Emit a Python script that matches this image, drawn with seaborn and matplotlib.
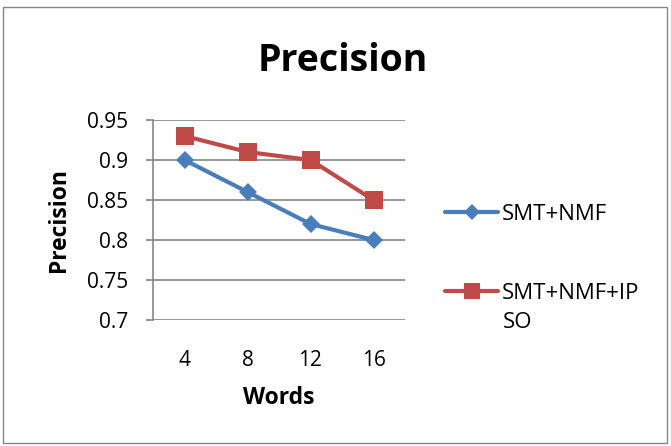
import matplotlib
matplotlib.use("Agg")
import matplotlib.pyplot as plt
import seaborn as sns
import pandas as pd
from matplotlib.patches import Rectangle
from matplotlib.lines import Line2D

words = ["4", "8", "12", "16"]
smt_nmf = [0.90, 0.86, 0.82, 0.80]
smt_nmf_ipso = [0.93, 0.91, 0.90, 0.85]
series_names = ["SMT+NMF", "SMT+NMF+IPSO"]
legend_lines = ["SMT+NMF", "SMT+NMF+IP"]
legend_wrap = "SO"
yticks = [0.7, 0.75, 0.8, 0.85, 0.9, 0.95]
ytick_labels = ["0.7", "0.75", "0.8", "0.85", "0.9", "0.95"]

df = pd.DataFrame({
    "Words": words * 2,
    "Precision": smt_nmf + smt_nmf_ipso,
    "Series": [series_names[0]] * 4 + [series_names[1]] * 4,
})
df["x"] = df["Words"].map({w: i for i, w in enumerate(words)})

sns.set_style("white")
plt.rcParams["font.family"] = ["Open Sans", "DejaVu Sans"]
plt.rcParams["text.color"] = "black"
plt.rcParams["axes.labelcolor"] = "black"
plt.rcParams["xtick.color"] = "black"
plt.rcParams["ytick.color"] = "black"

fig = plt.figure(figsize=(6.71, 4.46), dpi=100)
ax = fig.add_axes([153/671, 1-320/446, (405-153)/671, 200/446])

palette = {series_names[0]: "#4A7EBB", series_names[1]: "#BE4B48"}
markers = {series_names[0]: "D", series_names[1]: "s"}
sns.lineplot(data=df, x="x", y="Precision", hue="Series", style="Series",
             palette=palette, markers=markers, dashes=False, linewidth=3.0,
             markersize=10, markeredgewidth=0, ax=ax, legend=False)
for line in ax.get_lines():
    if line.get_marker() == "s":
        line.set_markersize(13)
    elif line.get_marker() == "D":
        line.set_markersize(9.5)

ax.set_xlim(-0.5, 3.5)
ax.set_ylim(0.7, 0.95)
ax.set_yticks(yticks)
ax.set_yticklabels(ytick_labels, fontsize=15)
ax.set_xticks(range(len(words)))
ax.set_xticklabels(words, fontsize=15)
ax.yaxis.grid(True, color="#868686", linewidth=1.2)
ax.set_axisbelow(True)
for s in ["top", "right", "bottom"]:
    ax.spines[s].set_visible(False)
ax.spines["left"].set_color("#868686")
ax.spines["left"].set_linewidth(1.2)
ax.tick_params(axis="y", which="both", left=True, length=5, color="#868686",
               width=1.2, pad=13, labelcolor="black")
ax.tick_params(axis="x", bottom=False, pad=18, labelcolor="black")
ax.set_xlabel("Words", fontsize=16.5, fontweight="bold", labelpad=11)
ax.set_ylabel("Precision", fontsize=16.5, fontweight="bold", labelpad=11)

fig.text(343/671, 1-61/446, "Precision", fontsize=27, fontweight="bold",
         ha="center", va="center")

handles = [Line2D([], [], color=palette[n], marker=markers[n], linewidth=3.0,
                  markersize=8 if markers[n] == "D" else 12, markeredgewidth=0)
           for n in series_names]
leg = fig.legend(handles, legend_lines, loc="upper left",
                 bbox_to_anchor=(445/671, 1-204/446), frameon=False,
                 fontsize=16, handlelength=2.4, handletextpad=0.15,
                 labelspacing=2.6, borderpad=0, borderaxespad=0)
fig.text(503/671, 1-322/446, legend_wrap, fontsize=16, ha="left", va="center")

fig.patches.append(Rectangle((3/671, 3/446), 664/671, 436/446, transform=fig.transFigure,
                             fill=False, edgecolor="#868686", linewidth=1))

fig.savefig("out.png", dpi=100)
